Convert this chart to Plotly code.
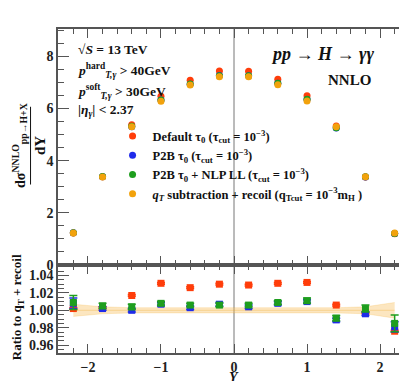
import plotly.graph_objects as go
from plotly.subplots import make_subplots

# rapidity bin centres
rapidity = [-2.2, -1.8, -1.4, -1.0, -0.6, -0.2, 0.2, 0.6, 1.0, 1.4, 1.8, 2.2]

# top panel: dsigma/dY
default_tau0 = [1.23, 3.38, 5.38, 6.47, 7.08, 7.44, 7.43, 7.12, 6.49, 5.33, 3.37, 1.20]
p2b_tau0 = [1.24, 3.38, 5.30, 6.33, 6.93, 7.27, 7.26, 6.97, 6.35, 5.25, 3.37, 1.21]
p2b_nlp = [1.24, 3.39, 5.32, 6.33, 6.94, 7.26, 7.26, 6.97, 6.36, 5.26, 3.38, 1.21]
qt_recoil = [1.23, 3.37, 5.30, 6.28, 6.90, 7.22, 7.22, 6.91, 6.29, 5.30, 3.38, 1.23]
top_err = [0.01, 0.01, 0.01, 0.01, 0.01, 0.01, 0.01, 0.01, 0.01, 0.01, 0.01, 0.01]

# bottom panel: ratio to qT + recoil
ratio_default = [1.002, 1.003, 1.017, 1.031, 1.026, 1.030, 1.029, 1.031, 1.032, 1.006, 0.997, 0.976]
ratio_default_err = [0.001, 0.001, 0.001, 0.001, 0.001, 0.001, 0.001, 0.001, 0.001, 0.001, 0.001, 0.001]
ratio_p2b = [1.008, 1.002, 1.000, 1.007, 1.003, 1.007, 1.004, 1.008, 1.010, 0.989, 0.996, 0.981]
ratio_p2b_err = [0.006, 0.002, 0.002, 0.002, 0.002, 0.002, 0.002, 0.002, 0.002, 0.002, 0.002, 0.006]
ratio_nlp = [1.009, 1.005, 1.004, 1.008, 1.006, 1.006, 1.006, 1.009, 1.011, 0.991, 1.002, 0.985]
ratio_nlp_err = [0.008, 0.003, 0.003, 0.002, 0.002, 0.002, 0.002, 0.002, 0.003, 0.003, 0.004, 0.0095]
band_up = [1.007, 1.004, 1.003, 1.003, 1.003, 1.003, 1.003, 1.003, 1.003, 1.003, 1.004, 1.009]
band_lo = [0.993, 0.996, 0.997, 0.997, 0.997, 0.997, 0.997, 0.997, 0.997, 0.997, 0.996, 0.991]
band_mid = [1.0] * len(rapidity)

RED = "#ff3d0a"
BLUE = "#1f2bea"
GREEN = "#1e9e1e"
ORANGE = "#f2a20c"
FONT = "Liberation Serif"

fig = make_subplots(rows=2, cols=1, shared_xaxes=True, row_heights=[236, 88], vertical_spacing=0)

series = [
    ("<b>Default τ<sub>0</sub> (τ<sub>cut</sub> = 10<sup>−3</sup>)</b>", default_tau0, RED),
    ("<b>P2B τ<sub>0</sub> (τ<sub>cut</sub> = 10<sup>−3</sup>)</b>", p2b_tau0, BLUE),
    ("<b>P2B τ<sub>0</sub> + NLP LL (τ<sub>cut</sub> = 10<sup>−3</sup>)</b>", p2b_nlp, GREEN),
    ("<b><i>q<sub>T</sub></i> subtraction + recoil (q<sub>Tcut</sub> = 10<sup>−3</sup>m<sub>H</sub> )</b>", qt_recoil, ORANGE),
]
for i, (name, vals, col) in enumerate(series):
    fig.add_trace(go.Scatter(
        x=rapidity, y=vals, mode="markers", name=name, legendgroup=f"g{i}", legendrank=i + 1,
        marker=dict(color=col, size=7, symbol="circle"),
        error_y=dict(type="data", array=top_err, color=col, thickness=1.5, width=3),
    ), row=1, col=1)

# uncertainty band of the reference
fig.add_trace(go.Scatter(x=rapidity, y=band_up, mode="lines", line=dict(width=0.5, color="rgba(242,162,12,0.35)"),
                         showlegend=False, hoverinfo="skip"), row=2, col=1)
fig.add_trace(go.Scatter(x=rapidity, y=band_lo, mode="lines", line=dict(width=0.5, color="rgba(242,162,12,0.35)"),
                         fill="tonexty", fillcolor="rgba(247,190,90,0.38)", showlegend=False, hoverinfo="skip"), row=2, col=1)
fig.add_trace(go.Scatter(x=rapidity, y=band_mid, mode="lines", line=dict(width=0.8, color="rgba(242,162,12,0.35)"),
                         showlegend=False, hoverinfo="skip"), row=2, col=1)

for vals, errs, col in [(ratio_default, ratio_default_err, RED), (ratio_p2b, ratio_p2b_err, BLUE),
                        (ratio_nlp, ratio_nlp_err, GREEN)]:
    fig.add_trace(go.Scatter(
        x=rapidity, y=vals, mode="markers", showlegend=False,
        marker=dict(color=col, size=7, symbol="square"),
        error_y=dict(type="data", array=errs, color=col, thickness=1.5, width=4),
    ), row=2, col=1)

axis_common = dict(showline=True, linecolor="#555", linewidth=1.5, mirror="ticks", ticks="inside",
                   tickcolor="#555", tickwidth=1.3, showgrid=False, zeroline=False,
                   tickfont=dict(family=FONT, size=14, color="#222", weight="bold"))

fig.update_xaxes(range=[-2.41, 2.41], dtick=1, ticklen=9,
                 minor=dict(dtick=0.2, ticklen=5, ticks="inside", tickcolor="#555"), **axis_common)
fig.update_xaxes(showticklabels=False, row=1, col=1)
fig.update_yaxes(range=[0, 9.05], dtick=2, ticklen=11,
                 minor=dict(dtick=0.5, ticklen=6, ticks="inside", tickcolor="#555"), row=1, col=1, **axis_common)
fig.update_yaxes(range=[0.951, 1.052], tickvals=[0.96, 0.98, 1.00, 1.02, 1.04], tickformat=".2f", ticklen=11,
                 minor=dict(dtick=0.005, ticklen=6, ticks="inside", tickcolor="#555"), row=2, col=1, **axis_common)

# vertical line at Y = 0 through both panels
fig.add_shape(type="line", xref="x", yref="paper", x0=0, x1=0, y0=0, y1=1,
              line=dict(color="#777", width=1), layer="below")

# x title
fig.add_annotation(text="<b><i>Y</i></b>", x=0.5, y=-0.075, xref="paper", yref="paper", showarrow=False,
                   xanchor="center", yanchor="middle", font=dict(family=FONT, size=14, color="#111"))

txt = dict(family=FONT, size=13.5, color="#111")
notes = [
    ("<b>√<i>S</i> = 13 TeV</b>", 0.05, 0.937),
    ("<b><i>p</i><sup>hard</sup><sub><i>T,γ</i></sub> > 40GeV</b>", 0.05, 0.872),
    ("<b><i>p</i><sup>soft</sup><sub><i>T,γ</i></sub> > 30GeV</b>", 0.05, 0.808),
    ("<b>|<i>η<sub>γ</sub></i>| < 2.37</b>", 0.05, 0.748),
]
for t, xx, yy in notes:
    fig.add_annotation(text=t, x=xx, y=yy, xref="paper", yref="paper", xanchor="left", yanchor="middle",
                       showarrow=False, font=txt)
fig.add_annotation(text="<b><i>pp</i> → <i>H</i> → <i>γγ</i></b>", x=0.905, y=0.922, xref="paper", yref="paper",
                   xanchor="right", yanchor="middle", showarrow=False, font=dict(family=FONT, size=18, color="#111"))
fig.add_annotation(text="<b>NNLO</b>", x=0.895, y=0.842, xref="paper", yref="paper", xanchor="right",
                   yanchor="middle", showarrow=False, font=dict(family=FONT, size=15, color="#111"))

# y titles
fig.add_annotation(text="<b>dσ<sup>NNLO</sup><sub>pp→H+X</sub></b>", x=-0.11, y=0.64, xref="paper",
                   yref="paper", textangle=-90, showarrow=False, xanchor="center", yanchor="middle",
                   font=dict(family=FONT, size=14, color="#111"))
fig.add_annotation(text="<b>dY</b>", x=-0.053, y=0.64, xref="paper", yref="paper", textangle=-90,
                   showarrow=False, xanchor="center", yanchor="middle", font=dict(family=FONT, size=15, color="#111"))
fig.add_shape(type="line", xref="paper", yref="paper", x0=-0.078, x1=-0.078, y0=0.52, y1=0.76,
              line=dict(color="#111", width=1))
fig.add_annotation(text="<b>Ratio to q<sub>T</sub> + recoil</b>", x=-0.115, y=0.14, xref="paper", yref="paper",
                   textangle=-90, showarrow=False, xanchor="center", yanchor="middle",
                   font=dict(family=FONT, size=13, color="#111"))

fig.update_layout(
    width=407, height=381,
    margin=dict(l=50, r=3, t=21, b=36),
    paper_bgcolor="white", plot_bgcolor="white",
    showlegend=True,
    legend=dict(x=0.155, y=0.715, xanchor="left", yanchor="top", bgcolor="rgba(0,0,0,0)",
                traceorder="normal", tracegroupgap=4, itemsizing="trace",
                font=dict(family=FONT, size=12.5, color="#111")),
)

fig.write_html("out.html")
